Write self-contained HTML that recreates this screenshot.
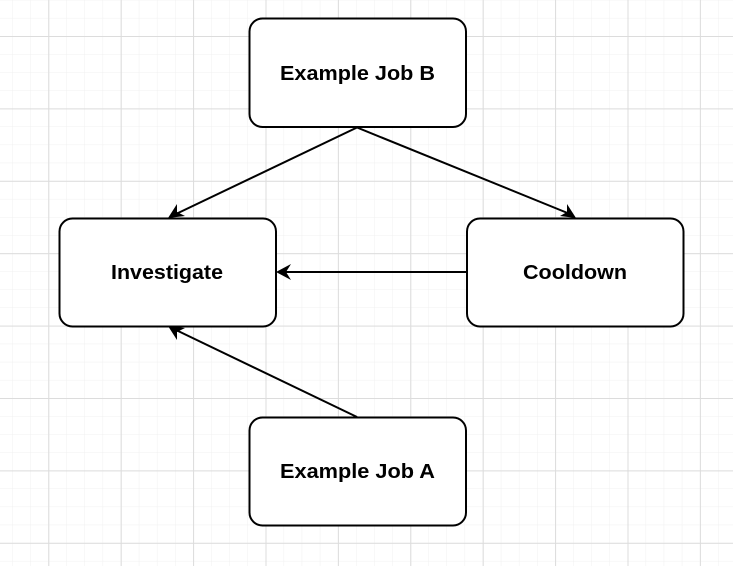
<!DOCTYPE html>
<html><head><meta charset="utf-8"><style>
html,body{margin:0;padding:0;background:#fff;}
svg{display:block;}
text{font-family:"Liberation Sans",Arial,sans-serif;font-weight:bold;font-size:20px;fill:#000;}
</style></head><body>
<svg width="733" height="566" viewBox="0 0 733 566" xmlns="http://www.w3.org/2000/svg">
<defs>
<pattern id="minor" x="12.1" y="-0.2" width="18.1" height="18.1" patternUnits="userSpaceOnUse">
<path d="M0 0H18.1M0 0V18.1" stroke="#f0f0f0" stroke-width="1" fill="none"/>
</pattern>
<pattern id="major" x="48.3" y="36" width="72.4" height="72.4" patternUnits="userSpaceOnUse">
<path d="M0 0.5H72.4M0.5 0V72.4" stroke="#dcdcdc" stroke-width="1" fill="none"/>
</pattern>
</defs>
<rect width="733" height="566" fill="#fff"/>
<rect width="733" height="566" fill="url(#minor)"/>
<rect width="733" height="566" fill="url(#major)"/>
<g stroke="#000" stroke-width="2" fill="none">
<line x1="357" y1="127.5" x2="176" y2="214"/>
<line x1="357" y1="127.5" x2="570" y2="214"/>
<line x1="466" y1="272" x2="284" y2="272"/>
<line x1="357" y1="417" x2="176" y2="330"/>
</g>
<g fill="#000">
<!-- arrow to Investigate from B: tip (168,218), dir (-0.9,0.43) -->
<path d="M168 218 L177 204 L177 212 L185 216 Z"/>
<!-- arrow to Cooldown: tip (576,218) -->
<path d="M576 218 L560 216 L567 212 L567 204 Z"/>
<!-- arrow to Investigate right side -->
<path d="M276 272 L291 264 L286 272 L291 280 Z"/>
<!-- arrow from A to Investigate bottom: tip (168,326) -->
<path d="M168 326 L185 328 L177 332 L177 340 Z"/>
</g>
<g fill="#fff" stroke="#000" stroke-width="2">
<rect x="249.5" y="18.5" width="216.5" height="108.5" rx="13"/>
<rect x="59.5" y="218.5" width="216.5" height="108" rx="13"/>
<rect x="467" y="218.5" width="216.5" height="108" rx="13"/>
<rect x="249.5" y="417.5" width="216.5" height="108" rx="13"/>
</g>
<text x="280" y="80" textLength="155" lengthAdjust="spacingAndGlyphs">Example Job B</text>
<text x="111" y="279" textLength="112" lengthAdjust="spacingAndGlyphs">Investigate</text>
<text x="523" y="279" textLength="104" lengthAdjust="spacingAndGlyphs">Cooldown</text>
<text x="280" y="478" textLength="155" lengthAdjust="spacingAndGlyphs">Example Job A</text>
</svg>
</body></html>
